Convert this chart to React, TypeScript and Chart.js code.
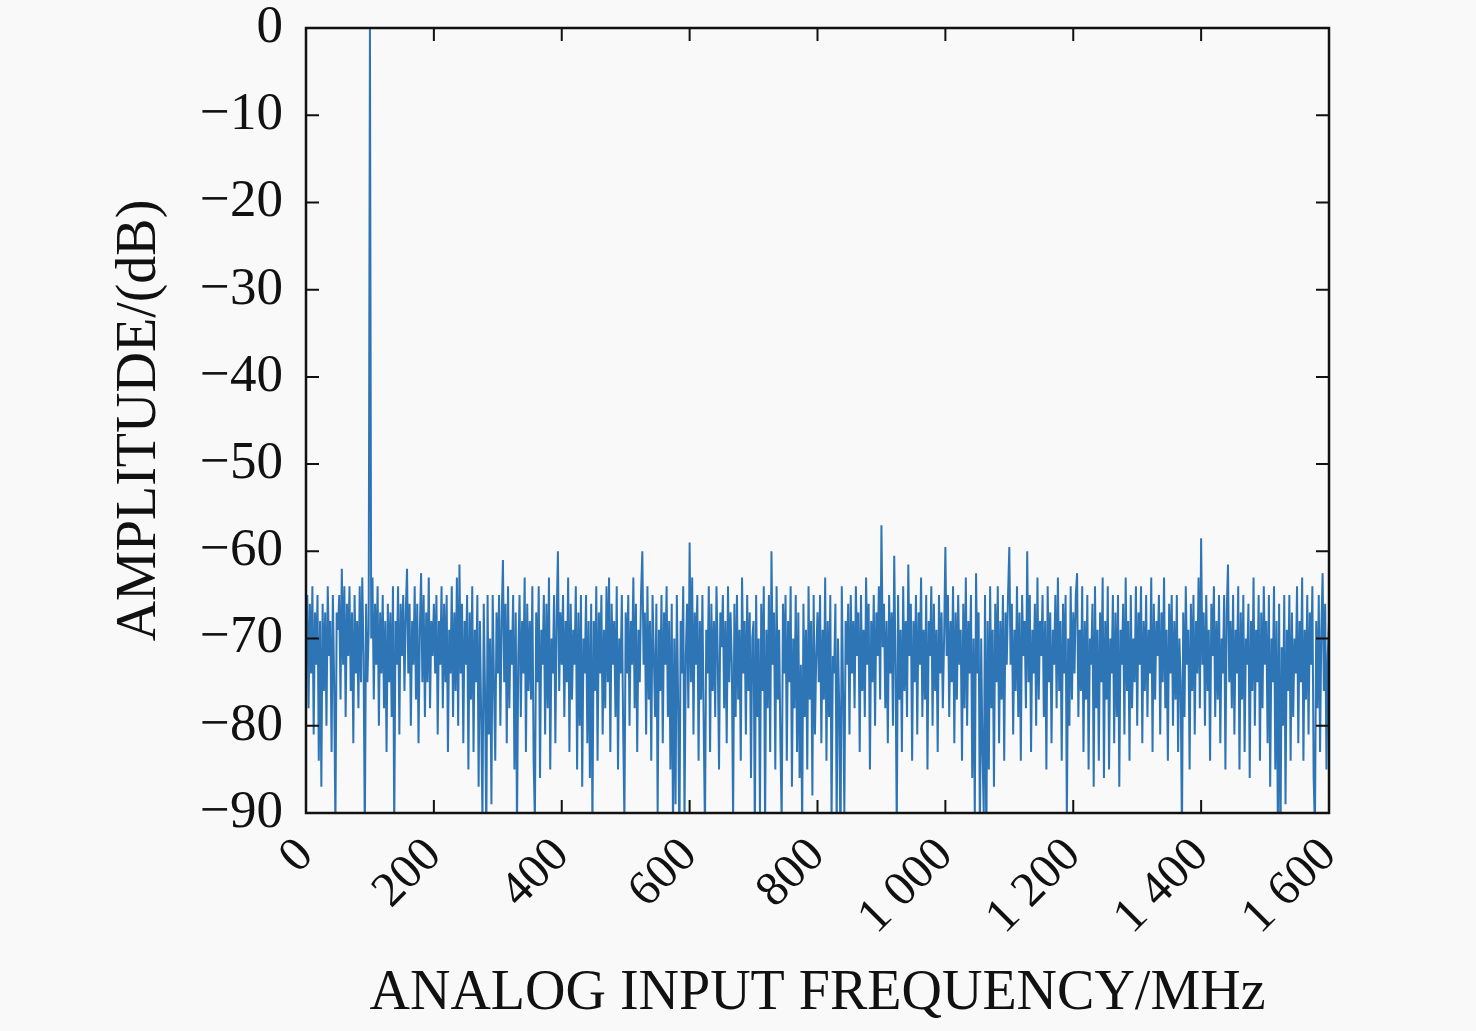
import React, { useEffect, useRef } from 'react';
import { Chart, registerables } from 'chart.js';

Chart.register(...registerables);

// FFT bin spacing (MHz) of the amplitude list below
const binStepMHz = 2;

// amplitude per bin in dB, 25 bins (50 MHz) per row
const amplitudeDb: number[] = [
  -70, -65, -78, -66, -74, -64, -81, -67, -73, -65, -84, -68, -87, -66, -76, -67, -80, -64, -72, -68, -83, -65, -75, -92, -67,
  -69, -65, -77, -62, -73, -64, -79, -66, -72, -64, -76, -67, -82, -65, -74, -68, -78, -64, -75, -63, -72, -93, -66, -75, -69,
  0, -70, -63, -77, -66, -73, -64, -80, -67, -74, -65, -78, -68, -83, -66, -75, -67, -79, -64, -92, -68, -73, -64, -81, -66,
  -72, -65, -76, -67, -62, -74, -66, -80, -68, -73, -64, -77, -66, -82, -69, -62.5, -75, -65, -79, -67, -75, -63, -78, -68, -72,
  -66, -74, -65, -81, -68, -73, -64, -78, -66, -75, -65, -83, -69, -74, -64, -79, -67, -76, -63, -80, -61.5, -74, -66, -82, -68,
  -73, -65, -85, -67, -77, -64, -83, -69, -75, -65, -87, -68, -79, -91, -66, -76, -93, -65, -81, -70, -89, -65, -75, -84, -67,
  -74, -65, -80, -68, -61, -75, -66, -82, -64, -78, -69, -73, -65, -85, -67, -92, -72, -65, -79, -68, -74, -63, -83, -66, -76,
  -68, -77, -64, -84, -91, -67, -75, -64, -86, -69, -73, -65, -81, -66, -78, -63, -85, -70, -74, -65, -82, -68, -60, -76, -67,
  -73, -65, -79, -68, -75, -63, -83, -66, -77, -69, -73, -64, -85, -67, -80, -65, -87, -70, -74, -65, -82, -68, -86, -66, -92,
  -68, -76, -64, -84, -67, -74, -65, -81, -69, -78, -64, -75, -63, -83, -66, -73, -68, -79, -64, -85, -70, -74, -65, -80, -91,
  -67, -74, -65, -80, -68, -73, -63, -78, -66, -83, -69, -75, -65, -60, -73, -67, -81, -64, -77, -68, -84, -65, -72, -79, -66,
  -90, -69, -76, -65, -82, -67, -73, -64, -79, -68, -85, -66, -92, -70, -89, -65, -77, -94, -68, -74, -64, -91, -72, -66, -78,
  -59, -75, -63, -81, -67, -73, -65, -84, -68, -77, -65, -80, -92, -69, -74, -64, -83, -66, -76, -68, -79, -64, -72, -85, -67,
  -71, -65, -78, -68, -82, -64, -75, -67, -73, -91, -66, -79, -65, -77, -69, -84, -63, -74, -68, -81, -65, -76, -67, -86, -70,
  -68, -93, -65, -79, -70, -90, -66, -76, -64, -92, -69, -78, -65, -83, -60, -73, -67, -85, -64, -77, -69, -82, -91, -66, -74,
  -65, -84, -68, -75, -64, -87, -70, -78, -65, -83, -67, -86, -73, -92, -66, -79, -69, -85, -64, -77, -68, -88, -65, -81, -72,
  -67, -75, -65, -82, -69, -77, -63, -84, -68, -79, -65, -91, -72, -74, -66, -92, -70, -78, -95, -64, -76, -90, -68, -73, -66,
  -81, -65, -74, -68, -78, -64, -72, -67, -83, -65, -76, -69, -79, -63, -73, -66, -85, -68, -75, -65, -80, -67, -72, -64, -77,
  -57, -71, -66, -78, -68, -82, -65, -74, -67, -80, -60.5, -73, -92, -65, -77, -69, -83, -64, -76, -68, -79, -61.5, -72, -66, -84,
  -68, -75, -65, -81, -67, -73, -63, -79, -69, -77, -65, -85, -68, -72, -64, -80, -66, -76, -69, -83, -65, -74, -67, -78, -70,
  -59.5, -72, -65, -79, -68, -75, -64, -82, -67, -77, -65, -73, -69, -84, -66, -78, -63, -80, -68, -74, -65, -86, -70, -91, -62.5,
  -74, -67, -93, -70, -83, -90, -65, -95, -68, -85, -64, -78, -69, -87, -66, -75, -64, -82, -68, -77, -65, -84, -67, -73, -65,
  -59.5, -73, -66, -81, -69, -76, -64, -79, -67, -84, -65, -72, -68, -78, -60, -75, -65, -83, -69, -74, -66, -80, -63, -77, -68,
  -72, -65, -79, -68, -85, -64, -75, -67, -82, -69, -73, -65, -78, -63, -76, -68, -84, -66, -74, -65, -91, -70, -80, -64, -77,
  -67, -74, -65, -62.5, -79, -69, -76, -64, -83, -68, -77, -65, -85, -70, -73, -66, -87, -64, -78, -69, -84, -67, -75, -63, -86,
  -68, -77, -64, -85, -70, -74, -65, -82, -67, -79, -65, -87, -69, -73, -66, -81, -63, -76, -68, -84, -65, -78, -70, -75, -64,
  -80, -67, -73, -64, -82, -68, -76, -65, -79, -69, -74, -63, -83, -66, -77, -68, -72, -65, -81, -67, -75, -63, -78, -69, -84,
  -66, -74, -65, -80, -68, -77, -65, -83, -70, -75, -93, -67, -79, -64, -73, -69, -85, -66, -76, -65, -81, -68, -74, -63, -78,
  -58.5, -73, -67, -80, -65, -76, -69, -84, -66, -72, -64, -79, -68, -77, -65, -82, -70, -74, -65, -85, -67, -61.5, -75, -68, -78,
  -65, -81, -69, -74, -64, -85, -67, -77, -65, -83, -70, -73, -66, -86, -68, -76, -63, -80, -69, -75, -65, -84, -67, -78, -64,
  -73, -68, -82, -65, -87, -70, -75, -64, -85, -68, -92, -66, -95, -71, -80, -65, -89, -69, -76, -65, -84, -67, -79, -70, -74,
  -64, -82, -68, -75, -63, -84, -69, -77, -65, -81, -67, -73, -64, -86, -92, -68, -78, -65, -83, -69, -62.5, -76, -66, -85, -72,
  -68,
];

const xTickValues = [0, 200, 400, 600, 800, 1000, 1200, 1400, 1600];
const yTickValues = [0, -10, -20, -30, -40, -50, -60, -70, -80, -90];

const xTitle = 'ANALOG INPUT FREQUENCY/MHz';
const yTitle = 'AMPLITUDE/(dB)';

const serif = '"Liberation Serif", "Times New Roman", serif';

const fmtX = (v: number) => (v >= 1000 ? `${Math.floor(v / 1000)} ${String(v % 1000).padStart(3, '0')}` : String(v));
const fmtY = (v: number) => (v < 0 ? `\u2212${Math.abs(v)}` : String(v));

// box round the plot with inward ticks on all four sides
const framePlugin = {
  id: 'frame',
  afterDatasetsDraw(chart: any) {
    const { ctx, chartArea } = chart;
    const { left, right, top, bottom } = chartArea;
    const xs = chart.scales.x;
    const ys = chart.scales.y;
    const len = 13;
    ctx.save();
    ctx.strokeStyle = '#111';
    ctx.lineWidth = 2;
    ctx.beginPath();
    xTickValues.forEach((v) => {
      const px = xs.getPixelForValue(v);
      ctx.moveTo(px, bottom);
      ctx.lineTo(px, bottom - len);
      ctx.moveTo(px, top);
      ctx.lineTo(px, top + len);
    });
    yTickValues.forEach((v) => {
      const py = ys.getPixelForValue(v);
      ctx.moveTo(left, py);
      ctx.lineTo(left + len, py);
      ctx.moveTo(right, py);
      ctx.lineTo(right - len, py);
    });
    ctx.stroke();
    ctx.lineWidth = 2.5;
    ctx.strokeRect(left, top, right - left, bottom - top);
    ctx.restore();
  },
};

const App: React.FC = () => {
  const canvasRef = useRef<HTMLCanvasElement>(null);
  const chartRef = useRef<Chart>();

  useEffect(() => {
    if (!canvasRef.current) return;

    const points = amplitudeDb.map((y, i) => ({ x: i * binStepMHz, y }));

    chartRef.current = new Chart(canvasRef.current, {
      type: 'line',
      data: {
        datasets: [
          {
            data: points,
            borderColor: '#2e75b6',
            borderWidth: 2,
            pointRadius: 0,
            tension: 0,
            fill: false,
          },
        ],
      },
      options: {
        animation: false,
        responsive: true,
        maintainAspectRatio: false,
        layout: { padding: { top: 28, right: 147, left: 0, bottom: 0 } },
        plugins: {
          legend: { display: false },
          tooltip: { enabled: false },
        },
        scales: {
          x: {
            type: 'linear',
            min: 0,
            max: 1600,
            afterFit: (s: any) => {
              s.height = 218;
            },
            afterBuildTicks: (s: any) => {
              s.ticks = xTickValues.map((value) => ({ value }));
            },
            grid: { display: false, drawTicks: false },
            border: { display: false },
            ticks: {
              minRotation: 45,
              maxRotation: 45,
              padding: 14,
              color: '#111',
              font: { family: serif, size: 49 },
              callback: (v: any) => fmtX(Number(v)),
            },
            title: {
              display: true,
              text: xTitle,
              color: '#111',
              font: { family: serif, size: 56 },
              padding: { top: 0, bottom: 3 },
            },
          },
          y: {
            type: 'linear',
            min: -90,
            max: 0,
            afterFit: (s: any) => {
              s.width = 306;
              s.paddingTop = 0;
              s.paddingBottom = 0;
            },
            afterBuildTicks: (s: any) => {
              s.ticks = yTickValues.map((value) => ({ value }));
            },
            grid: { display: false, drawTicks: false },
            border: { display: false },
            ticks: {
              padding: 23,
              color: '#111',
              font: { family: serif, size: 53 },
              callback: (v: any) => fmtY(Number(v)),
            },
            title: {
              display: true,
              text: yTitle,
              color: '#111',
              font: { family: serif, size: 56 },
              padding: { top: 107, bottom: 0 },
            },
          },
        },
      },
      plugins: [framePlugin],
    });

    return () => {
      if (chartRef.current) {
        chartRef.current.destroy();
      }
    };
  }, []);

  return (
    <div style={{ position: 'absolute', left: 0, top: 0, width: 1476, height: 1031, background: '#f9f9f9' }}>
      <canvas ref={canvasRef} />
    </div>
  );
};

export default App;
